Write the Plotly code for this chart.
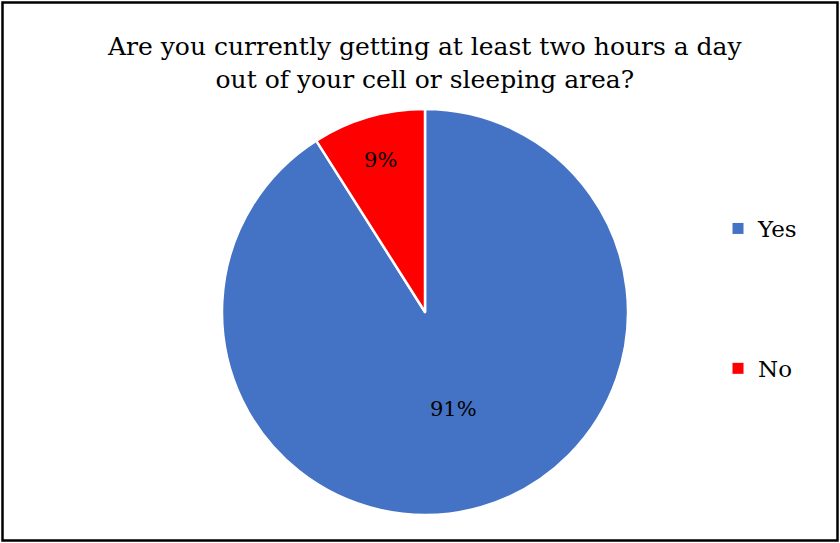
import plotly.graph_objects as go

labels = ["Yes", "No"]
values = [91, 9]
colors = ["#4472C4", "#FF0000"]
title_text = "Are you currently getting at least two hours a day<br>out of your cell or sleeping area?"

W, H = 840, 543
FONT = "DejaVu Serif"

fig = go.Figure()
fig.add_trace(go.Pie(
    labels=labels, values=values, sort=False, direction="clockwise", rotation=0,
    marker=dict(colors=colors, line=dict(color="white", width=2.5)),
    textinfo="percent", textposition="inside", insidetextorientation="horizontal",
    textfont=dict(family=FONT, size=21, color="black"),
    showlegend=False,
    domain=dict(x=[(425 - 203) / W, (425 + 203) / W], y=[(231 - 203) / H, (231 + 203) / H]),
))
for lab, col in zip(labels, colors):
    fig.add_trace(go.Scatter(
        x=[None], y=[None], mode="markers", name=lab, legendgroup=lab,
        marker=dict(symbol="square", color=col, size=11),
    ))

fig.update_layout(
    width=W, height=H, margin=dict(l=0, r=0, t=0, b=0),
    paper_bgcolor="white", plot_bgcolor="white",
    xaxis=dict(visible=False), yaxis=dict(visible=False),
    showlegend=True,
    legend=dict(x=718 / W, y=1 - 207 / H, xanchor="left", yanchor="top",
                font=dict(family=FONT, size=23, color="black"),
                tracegroupgap=107, itemwidth=30, bgcolor="rgba(0,0,0,0)"),
    annotations=[dict(text=title_text, x=425 / W, y=1 - 63 / H, xref="paper", yref="paper",
                      xanchor="center", yanchor="middle", showarrow=False,
                      font=dict(family=FONT, size=25, color="black"))],
    shapes=[dict(type="rect", xref="paper", yref="paper", x0=2.5 / W, x1=1 - 2.5 / W,
                 y0=2.5 / H, y1=1 - 2.5 / H, line=dict(color="black", width=2.5))],
)

fig.write_html("out.html", config={"displayModeBar": False},
               post_script="document.body.style.margin='0';document.body.style.overflow='hidden';")
